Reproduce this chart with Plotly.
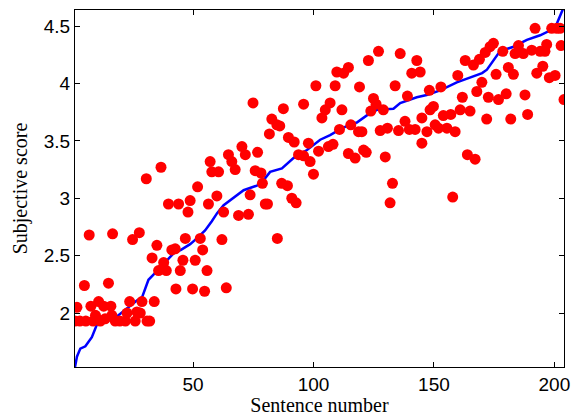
import plotly.graph_objects as go

# Blue curve: sorted subjective scores (vertices)
line_x = [1, 1.8, 3.2, 5.3, 8, 10.1, 12.9, 15.6, 18.4, 21.9, 26.7, 28.9, 31.5, 34.3, 37.8,
          41.9, 45, 48.8, 51.6, 55, 57.8, 60, 62.7, 67, 71, 76.5, 79, 82, 86.9, 91.7,
          97.3, 102.8, 106.9, 111, 115.9, 118, 122, 126.3, 133.2, 136, 142.9, 147, 152.6,
          159.5, 166.4, 170, 172, 174.2, 177.4, 183, 188.6, 194.1, 199, 201, 203, 203.8]
line_y = [1.53, 1.62, 1.69, 1.71, 1.79, 1.90, 1.92, 1.94, 1.97, 2.03, 2.11, 2.14, 2.29, 2.35, 2.43,
          2.52, 2.55, 2.60, 2.65, 2.72, 2.80, 2.87, 2.94, 3.01, 3.07, 3.11, 3.15, 3.23, 3.26, 3.35,
          3.42, 3.51, 3.55, 3.60, 3.65, 3.66, 3.72, 3.77, 3.78, 3.83, 3.88, 3.90, 3.94,
          4.01, 4.06, 4.09, 4.12, 4.19, 4.28, 4.32, 4.38, 4.42, 4.47, 4.52, 4.62, 4.66]

# Red dots: individual scores per sentence
red_x = [1, 1.8, 3, 4.9, 5.5, 6.9, 7.6, 8.5, 9.5, 10.8, 11.5, 12.9, 13.5, 14.9, 15.9, 16.3,
         16.6, 17.7, 19.6, 21.9, 22.6, 23.7, 24.9, 26, 26.7, 27.7, 28.1, 28.8, 30.6, 30.9,
         32, 33, 33.9, 35, 35.7, 36.7, 37.8, 38.9, 39.8, 41.2, 42.6, 42.9, 44.0, 44.7, 45.8,
         46.8, 47.9, 48.8, 49.8, 50.9, 51.9, 53.0, 54.0, 54.8, 55.8, 56.4, 57.1, 57.8, 59.9,
         60.6, 62, 62.7, 63.8, 64.7, 66.1, 67.5, 68.9, 70.3, 71.7, 73.0, 73.7, 74.9, 75.8,
         76.8, 78.2, 78.8, 80, 80.9, 81.7, 82.7, 84.8, 85, 86, 86.8, 87.5, 89.2, 89.6, 91,
         92, 92.8, 93.8, 95.9, 95.9, 97.9, 98.6, 100, 101, 102.1, 103.5, 104.9, 106.2, 106.9,
         108.1, 109, 109.7, 110.8, 111.8, 112.5, 114.5, 114.5, 115.5, 117.3, 118.7, 119.1,
         120.1, 120.8, 121.9, 122.8, 123.8, 124.9, 126, 127, 127.7, 129, 129.8, 130.7, 131.8,
         132.8, 133.9, 135.3, 136, 138, 139, 139.8, 140.8, 142.2, 142.9, 144.3, 145, 145,
         147.1, 148.1, 148.4, 149.8, 150.5, 151.9, 152.9, 153.9, 155.4, 157, 157.8, 158.8,
         159.9, 160.9, 161.8, 163, 163.9, 165, 166.4, 167.1, 167.8, 168.9, 169.9, 171.3,
         171.9, 172.6, 173.3, 174.7, 175.8, 176.8, 178.6, 180, 180.9, 181.9, 183, 183.7,
         185.1, 187.1, 187.8, 188.9, 190.6, 192, 192.7, 194.1, 195.2, 196.1, 196.8, 197.9,
         198.9, 200.3, 201, 202.4, 202.8, 204]
red_y = [1.93, 2.05, 1.93, 2.24, 1.93, 2.68, 2.06, 1.93, 1.98, 2.10, 1.93, 2.06, 1.95, 2.26, 2.06, 1.98,
         2.69, 1.93, 1.93, 1.93, 2.00, 2.10, 2.64, 1.93, 2.01, 2.70, 2.00, 2.10, 3.17, 1.93,
         1.93, 2.48, 2.10, 2.59, 2.37, 3.27, 2.44, 2.37, 2.95, 2.55, 2.56, 2.21, 2.95, 2.37, 2.46,
         2.65, 2.88, 2.98, 2.21, 2.46, 3.10, 2.65, 2.55, 2.19, 2.37, 2.95, 3.32, 3.23, 3.02,
         3.23, 2.64, 2.88, 2.22, 3.38, 3.32, 3.25, 2.85, 3.45, 3.38, 2.86, 3.03, 3.83, 3.24,
         3.40, 3.22, 3.13, 2.95, 2.95, 3.56, 3.69, 3.64, 2.65, 3.63, 3.13, 3.78, 3.11, 3.53, 3.00,
         3.49, 2.96, 3.38, 3.37, 3.82, 3.48, 3.32, 3.21, 3.98, 3.41, 3.70, 3.77, 3.45, 3.83,
         3.47, 3.98, 4.10, 3.60, 3.77, 4.09, 4.14, 3.39, 3.64, 3.35, 3.58, 3.97,
         3.58, 3.42, 3.40, 4.20, 3.76, 3.87, 3.82, 4.28, 3.59, 3.77, 3.36, 3.61, 2.96,
         3.13, 3.98, 3.59, 4.26, 3.67, 3.89, 3.60, 4.09, 3.60, 4.20, 4.10, 3.70, 3.48,
         3.58, 3.94, 3.77, 3.80, 3.64, 3.61, 3.97, 3.72, 3.61, 3.73, 3.01, 3.58,
         4.07, 3.77, 3.88, 4.20, 3.38, 3.76, 4.16, 3.34, 3.93, 4.21, 4.01, 4.27,
         3.69, 3.88, 4.32, 4.35, 4.08, 3.86, 4.28, 3.91, 4.14, 3.69, 4.08, 4.26,
         4.33, 4.26, 3.90, 3.73, 4.29, 4.48, 4.09, 4.28, 4.15, 4.28, 4.34, 4.05,
         4.48, 4.07, 4.48, 4.48, 4.33, 3.86]

x_ticks = [50, 100, 150, 200]
y_ticks = [2, 2.5, 3, 3.5, 4, 4.5]
y_tick_text = ["2", "2.5", "3", "3.5", "4", "4.5"]

fig = go.Figure()
fig.add_trace(go.Scatter(x=line_x, y=line_y, mode="lines",
                         line=dict(color="#0000ff", width=2.5), showlegend=False))
fig.add_trace(go.Scatter(x=red_x, y=red_y, mode="markers",
                         marker=dict(color="#ff0000", size=11, line=dict(width=0)),
                         showlegend=False))

axis_common = dict(showline=True, linecolor="black", linewidth=1, mirror="ticks",
                   ticks="inside", ticklen=5, tickcolor="black", showgrid=False,
                   zeroline=False, automargin=False,
                   tickfont=dict(family="Liberation Sans", size=19, color="black"))

fig.update_layout(
    width=576, height=416,
    margin=dict(l=75, r=12, t=10, b=49, autoexpand=False),
    paper_bgcolor="white", plot_bgcolor="white",
    xaxis=dict(range=[1, 204], tickvals=x_ticks, **axis_common,
               title=dict(text="Sentence number", standoff=1,
                          font=dict(family="Liberation Serif", size=20, color="black"))),
    yaxis=dict(range=[1.53, 4.64], tickvals=y_ticks, ticktext=y_tick_text, **axis_common,
               title=dict(text="Subjective score", standoff=10,
                          font=dict(family="Liberation Serif", size=20, color="black"))),
)

fig.write_html("out.html", config={"displayModeBar": False},
               post_script="document.body.style.margin='0';document.body.style.padding='0';"
                           "document.body.style.overflow='hidden';")
